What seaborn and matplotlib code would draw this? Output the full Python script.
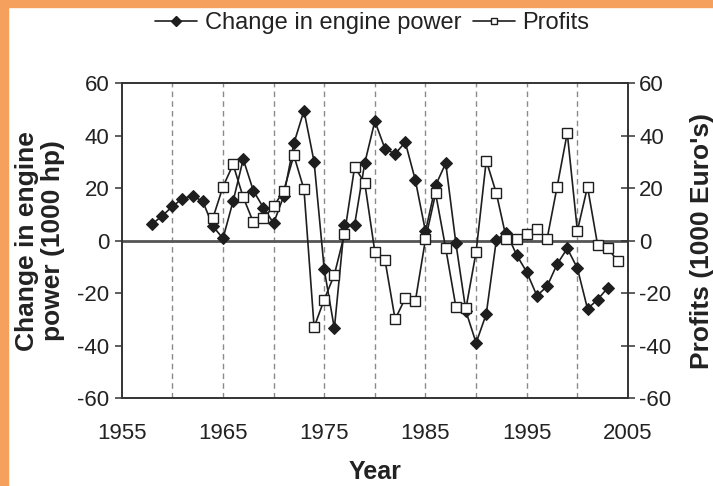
import matplotlib
matplotlib.use("Agg")
import matplotlib.pyplot as plt
from matplotlib.patches import Rectangle
from matplotlib.lines import Line2D
import seaborn as sns
import pandas as pd

# Yearly change in installed engine power (1000 hp)
engine_years = list(range(1958, 2004))
engine_change = [6.3, 9.4, 13, 16, 17, 15, 5.5, 0.8, 15, 31, 19, 12.5, 6.6, 17,
                 37, 49.5, 30, -11, -33.5, 6, 6, 29.5, 45.5, 35, 33, 37.5, 23,
                 3.5, 21, 29.5, -1, -27, -39, -28, 0.3, 3, -5.5, -12, -21, -17.5,
                 -9, -3, -10.5, -26, -22.5, -18]

# Yearly profits (1000 Euro's)
profit_years = list(range(1964, 2005))
profits = [8.5, 20.5, 29, 16.5, 7, 8.5, 13, 19, 32.5, 19.5, -33, -22.5, -13,
           2.5, 28, 22, -4.3, -7.4, -30, -22, -23, 0.5, 18, -3, -25.2, -25.8,
           -4.3, 30.5, 18, 0.5, 0.5, 2.5, 4.5, 0.5, 20.5, 41, 3.7, 20.5, -1.7,
           -3, -7.8]

x_ticks = [1955, 1965, 1975, 1985, 1995, 2005]
y_ticks = [-60, -40, -20, 0, 20, 40, 60]
grid_years = [1960, 1965, 1970, 1975, 1980, 1985, 1990, 1995, 2000]

engine_df = pd.DataFrame({"Year": engine_years, "Change": engine_change})
profit_df = pd.DataFrame({"Year": profit_years, "Profits": profits})

sns.set_style("white")
plt.rcParams["font.family"] = ["Liberation Sans", "DejaVu Sans"]
plt.rcParams["text.color"] = "#222222"

ink = "#1e1e1e"
fig = plt.figure(figsize=(7.13, 4.86), dpi=100)
ax = fig.add_axes([0.1707, 0.181, 0.7101, 0.648])
ax2 = ax.twinx()

# decorative frame strips along the top and left edges
fig.patches.append(Rectangle((0, 1 - 7 / 486), 1, 7 / 486, transform=fig.transFigure,
                             color="#F5A05C", zorder=0))
fig.patches.append(Rectangle((0, 0), 8 / 713, 1, transform=fig.transFigure,
                             color="#F5A05C", zorder=0))

for yr in grid_years:
    ax.axvline(yr, color="#8a8a8a", lw=1.0, ls=(0, (4, 3)), zorder=1)
ax.axhline(0, color="#555555", lw=2.0, zorder=1)

sns.lineplot(data=engine_df, x="Year", y="Change", ax=ax, color=ink, lw=1.2,
             marker="D", markersize=6.5, markerfacecolor=ink, markeredgecolor=ink,
             zorder=3, legend=False)
sns.lineplot(data=profit_df, x="Year", y="Profits", ax=ax2, color=ink, lw=1.2,
             marker="s", markersize=7.5, markerfacecolor="white",
             markeredgecolor=ink, markeredgewidth=1.0, zorder=3, legend=False)

for a in (ax, ax2):
    a.set_xlim(1955, 2005)
    a.set_ylim(-60, 60)
    a.set_yticks(y_ticks)
    for s in a.spines.values():
        s.set_color("#333333")
        s.set_linewidth(1.2)

ax.set_xticks(x_ticks)
ax.tick_params(axis="x", length=0, pad=18, labelsize=16, labelcolor="#222222")
ax.tick_params(axis="y", direction="out", length=5, width=1.1, color="#333333",
               pad=4, labelsize=16, labelcolor="#222222")
ax2.tick_params(axis="y", direction="inout", length=10, width=1.1, color="#333333",
                pad=3, labelsize=16, labelcolor="#222222")
ax.set_yticklabels([str(v) for v in y_ticks])
ax2.set_yticklabels([str(v) for v in y_ticks])

ax.set_xlabel("Year", fontsize=18, fontweight="bold", color="#222222")
ax.xaxis.label.set_verticalalignment("center")
ax.xaxis.set_label_coords(0.5, -0.235)

ax.set_ylabel("Change in engine\npower (1000 hp)", fontsize=19, fontweight="bold",
              color="#222222", linespacing=1.1)
ax.yaxis.label.set_verticalalignment("center")
ax.yaxis.label.set_horizontalalignment("center")
ax.yaxis.set_label_coords(-0.162, 0.5)

ax2.set_ylabel("Profits (1000 Euro's)", fontsize=19, fontweight="bold",
               color="#222222")
ax2.yaxis.label.set_rotation(90)
ax2.yaxis.label.set_verticalalignment("center")
ax2.yaxis.label.set_horizontalalignment("center")
ax2.yaxis.set_label_coords(1.147, 0.5)

handles = [
    Line2D([], [], color=ink, lw=1.2, marker="D", markersize=5,
           markerfacecolor=ink, markeredgecolor=ink),
    Line2D([], [], color=ink, lw=1.2, marker="s", markersize=5,
           markerfacecolor="white", markeredgecolor=ink),
]
fig.legend(handles, ["Change in engine power", "Profits"], loc="center",
           bbox_to_anchor=(0.522, 0.953), ncol=2, frameon=False, fontsize=17,
           handlelength=1.8, handletextpad=0.3, columnspacing=0.5)

fig.savefig("out.png", dpi=100, facecolor="white")
